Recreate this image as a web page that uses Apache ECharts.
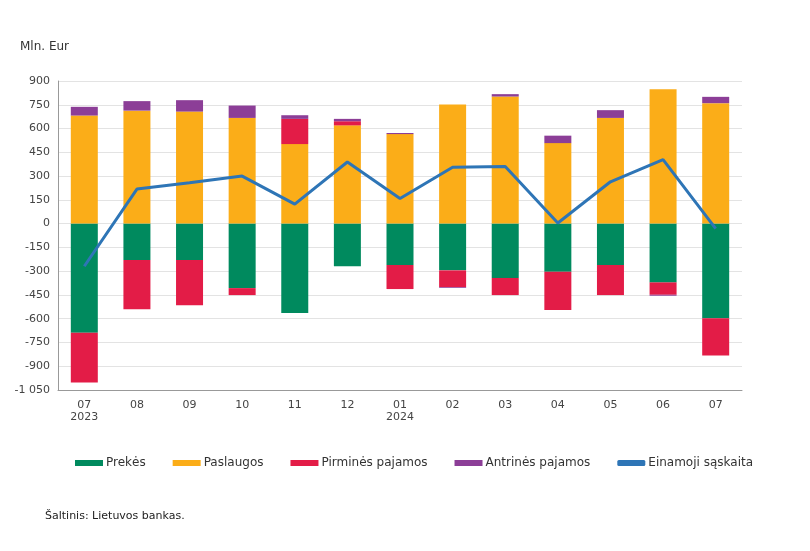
<!DOCTYPE html>
<html><head><meta charset="utf-8">
<script src="https://cdn.jsdelivr.net/npm/echarts@6/dist/echarts.min.js"></script>
<style>html,body{margin:0;padding:0;background:#fff}#c{width:810px;height:551px}</style>
</head><body><div id="c"></div>
<script>
var categories = ['07\n2023','08','09','10','11','12','01\n2024','02','03','04','05','06','07'];
var prekes    = [-689,-229,-229,-407,-564,-269,-261,-295,-343,-303,-261,-371,-597];
var paslaugos = [682,713,707,667,502,620,565,752,802,508,667,848,760];
var pirmines  = [-313,-311,-286,-44,159,26,-152,-105,-108,-242,-190,-78,-235];
var antrines  = [55,60,72,78,23,15,7,-5,15,47,49,-6,40];
var einamoji  = [-269,218,258,300,123,389,159,356,360,4,264,404,-32];
var yMin = -1050, yMax = 900, yStep = 150;

var font = 'DejaVu Sans';
var chart = echarts.init(document.getElementById('c'));
function barSeries(name, data, color){
  return {name:name,type:'bar',stack:'s',data:data,barWidth:27,
    itemStyle:{color:color},emphasis:{disabled:true}};
}
chart.setOption({
  animation:false,
  textStyle:{fontFamily:font},
  grid:{left:58,right:68,top:81,bottom:161},
  graphic:[
    {type:'text',left:20,top:41,style:{text:'Mln. Eur',font:'12px '+font,fill:'#333'}},
    {type:'text',left:45,top:511,style:{text:'Šaltinis: Lietuvos bankas.',font:'11px '+font,fill:'#222'}}
  ],
  legend:{left:70,top:452,itemWidth:28,itemHeight:6,itemGap:27,
    textStyle:{fontFamily:font,fontSize:12,color:'#333',padding:[0,0,0,-2]},
    data:[{name:'Prekės',icon:'rect'},{name:'Paslaugos',icon:'rect'},{name:'Pirminės pajamos',icon:'rect'},{name:'Antrinės pajamos',icon:'rect'},{name:'Einamoji sąskaita',icon:'roundRect',itemStyle:{color:'#2e75b6'}}]},
  xAxis:{type:'category',data:categories,
    axisLine:{onZero:false,lineStyle:{color:'#999'}},axisTick:{show:false},
    axisLabel:{color:'#444',fontSize:11,fontFamily:font,margin:9,lineHeight:12}},
  yAxis:{type:'value',min:yMin,max:yMax,interval:yStep,
    axisLine:{show:true,lineStyle:{color:'#999'}},axisTick:{show:false},
    splitLine:{lineStyle:{color:'#e3e3e3'}},
    axisLabel:{color:'#444',fontSize:11,fontFamily:font,margin:8,
      formatter:function(v){var s=Math.abs(v).toString();if(s.length>3)s=s.slice(0,-3)+' '+s.slice(-3);return (v<0?'-':'')+s;}}},
  series:[
    barSeries('Prekės',prekes,'#008a5e'),
    barSeries('Paslaugos',paslaugos,'#fbad18'),
    barSeries('Pirminės pajamos',pirmines,'#e31c47'),
    barSeries('Antrinės pajamos',antrines,'#8c3e97'),
    {name:'Einamoji sąskaita',type:'line',data:einamoji,symbol:'none',z:5,
      lineStyle:{color:'#2e75b6',width:3},itemStyle:{color:'#2e75b6'}}
  ]
});
</script></body></html>
